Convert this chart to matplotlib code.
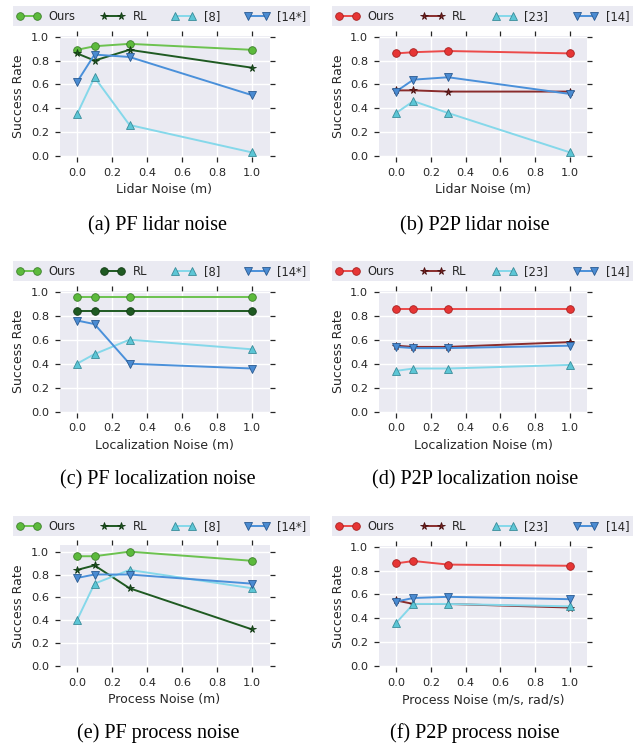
import matplotlib
matplotlib.use("Agg")
import matplotlib.pyplot as plt

W, H = 633, 745
DPI = 100

x_noise = [0.0, 0.1, 0.3, 1.0]
x_ticks = [0.0, 0.2, 0.4, 0.6, 0.8, 1.0]
y_ticks = [0.0, 0.2, 0.4, 0.6, 0.8, 1.0]

# (a) PF lidar noise
a_ours = [0.89, 0.92, 0.94, 0.89]
a_rl = [0.86, 0.80, 0.89, 0.74]
a_b1 = [0.35, 0.66, 0.26, 0.03]
a_b2 = [0.62, 0.85, 0.83, 0.51]
# (b) P2P lidar noise
b_ours = [0.86, 0.87, 0.88, 0.86]
b_rl = [0.55, 0.55, 0.54, 0.54]
b_b1 = [0.36, 0.46, 0.36, 0.03]
b_b2 = [0.54, 0.64, 0.66, 0.52]
# (c) PF localization noise
c_ours = [0.96, 0.96, 0.96, 0.96]
c_rl = [0.84, 0.84, 0.84, 0.84]
c_b1 = [0.40, 0.48, 0.60, 0.52]
c_b2 = [0.76, 0.73, 0.40, 0.36]
# (d) P2P localization noise
d_ours = [0.86, 0.86, 0.86, 0.86]
d_rl = [0.55, 0.54, 0.54, 0.58]
d_b1 = [0.34, 0.36, 0.36, 0.39]
d_b2 = [0.54, 0.53, 0.53, 0.55]
# (e) PF process noise
e_ours = [0.96, 0.96, 1.00, 0.92]
e_rl = [0.84, 0.88, 0.68, 0.32]
e_b1 = [0.40, 0.72, 0.84, 0.68]
e_b2 = [0.77, 0.80, 0.80, 0.72]
# (f) P2P process noise
f_ours = [0.86, 0.88, 0.85, 0.84]
f_rl = [0.55, 0.52, 0.52, 0.49]
f_b1 = [0.36, 0.52, 0.52, 0.50]
f_b2 = [0.54, 0.57, 0.58, 0.56]

pf_labels = ["Ours", "RL", "[8]", "[14*]"]
p2p_labels = ["Ours", "RL", "[23]", "[14]"]

x_labels = ["Lidar Noise (m)", "Lidar Noise (m)",
            "Localization Noise (m)", "Localization Noise (m)",
            "Process Noise (m)", "Process Noise (m/s, rad/s)"]
captions = ["(a) PF lidar noise", "(b) P2P lidar noise",
            "(c) PF localization noise", "(d) P2P localization noise",
            "(e) PF process noise", "(f) P2P process noise"]

GREEN = dict(line="#6cc24f", face="#5cba3c", edge="#3d7f2c")
DGREEN = dict(line="#1f5a22", face="#1f5a22", edge="#123a14")
RED = dict(line="#ec4a4a", face="#e63535", edge="#a82020")
DRED = dict(line="#8a2c2c", face="#7a2222", edge="#4a1010")
CYAN = dict(line="#85d8ea", face="#5cc6d6", edge="#3a8c9a")
BLUE = dict(line="#4a90da", face="#4a8bd2", edge="#2a5a92")

INK = "#262626"
BG = "#EAEAF2"

fig = plt.figure(figsize=(W / DPI, H / DPI), dpi=DPI)
fig.patch.set_facecolor("white")


def add_ax(x0, y0, x1, y1):
    return fig.add_axes([x0 / W, 1 - y1 / H, (x1 - x0) / W, (y1 - y0) / H])


panels = [
    dict(box=(59.5, 35.5, 269.5, 157.2), ylim=(-0.01, 1.01), leg=(13, 8, 310, 26),
         data=[a_ours, a_rl, a_b1, a_b2], labels=pf_labels,
         styles=[GREEN, DGREEN, CYAN, BLUE], rlm="*", cap=(158, 226)),
    dict(box=(378.6, 35.5, 587.4, 157.2), ylim=(-0.01, 1.01), leg=(332, 8, 633, 26),
         data=[b_ours, b_rl, b_b1, b_b2], labels=p2p_labels,
         styles=[RED, DRED, CYAN, BLUE], rlm="*", cap=(475, 226)),
    dict(box=(59.5, 290.5, 269.5, 412.9), ylim=(-0.01, 1.01), leg=(13, 263, 310, 281),
         data=[c_ours, c_rl, c_b1, c_b2], labels=pf_labels,
         styles=[GREEN, DGREEN, CYAN, BLUE], rlm="o", cap=(158, 480)),
    dict(box=(378.6, 290.5, 587.4, 412.9), ylim=(-0.01, 1.01), leg=(332, 263, 633, 281),
         data=[d_ours, d_rl, d_b1, d_b2], labels=p2p_labels,
         styles=[RED, DRED, CYAN, BLUE], rlm="*", cap=(475, 480)),
    dict(box=(59.5, 544.8, 269.5, 667.1), ylim=(-0.01, 1.06), leg=(13, 518, 310, 536),
         data=[e_ours, e_rl, e_b1, e_b2], labels=pf_labels,
         styles=[GREEN, DGREEN, CYAN, BLUE], rlm="*", cap=(158, 733)),
    dict(box=(378.6, 545.5, 587.4, 667.2), ylim=(-0.01, 1.01), leg=(332, 518, 633, 536),
         data=[f_ours, f_rl, f_b1, f_b2], labels=p2p_labels,
         styles=[RED, DRED, CYAN, BLUE], rlm="*", cap=(475, 733)),
]

for i, p in enumerate(panels):
    ax = add_ax(*p["box"])
    ax.set_facecolor(BG)
    for s in ax.spines.values():
        s.set_visible(False)
    ax.grid(True, color="white", linewidth=1.0)
    ax.set_axisbelow(True)
    ax.set_xlim(-0.1, 1.1)
    ax.set_ylim(*p["ylim"])
    ax.set_xticks(x_ticks)
    ax.set_yticks(y_ticks)
    ax.set_xticklabels([f"{t:.1f}" for t in x_ticks])
    ax.set_yticklabels([f"{t:.1f}" for t in y_ticks])
    ax.tick_params(axis="both", which="major", direction="out", length=3.5,
                   width=0.9, color=INK, labelcolor=INK, labelsize=8.2,
                   top=True, right=True, pad=4)
    ax.set_xlabel(x_labels[i], fontsize=9, color=INK, labelpad=4)
    ax.set_ylabel("Success Rate", fontsize=9, color=INK, labelpad=4)

    markers = ["o", p["rlm"], "^", "v"]
    handles = []
    for ys, st, mk, lb in zip(p["data"], p["styles"], markers, p["labels"]):
        (h,) = ax.plot(x_noise, ys, color=st["line"], linewidth=1.4,
                       marker=mk, markersize=5.5, markerfacecolor=st["face"],
                       markeredgecolor=st["edge"], markeredgewidth=0.6,
                       label=lb, clip_on=False, zorder=3)
        handles.append(h)

    lx0, ly0, lx1, ly1 = p["leg"]
    leg = ax.legend(handles=handles, labels=p["labels"], ncol=4, mode="expand",
                    loc="lower left",
                    bbox_to_anchor=(lx0 / W, 1 - ly1 / H, (lx1 - lx0) / W, (ly1 - ly0) / H),
                    bbox_transform=fig.transFigure, borderaxespad=0,
                    fontsize=8.3, numpoints=2, handlelength=2.1,
                    handletextpad=0.7, borderpad=0.3, frameon=True,
                    fancybox=False)
    fr = leg.get_frame()
    fr.set_facecolor(BG)
    fr.set_edgecolor("none")
    fr.set_alpha(1.0)
    for t in leg.get_texts():
        t.set_color(INK)

    cx, cy = p["cap"]
    fig.text(cx / W, 1 - cy / H, captions[i], ha="center", va="center",
             fontsize=14.5, family="Liberation Serif", color="black")

fig.savefig("out.png", dpi=DPI)
